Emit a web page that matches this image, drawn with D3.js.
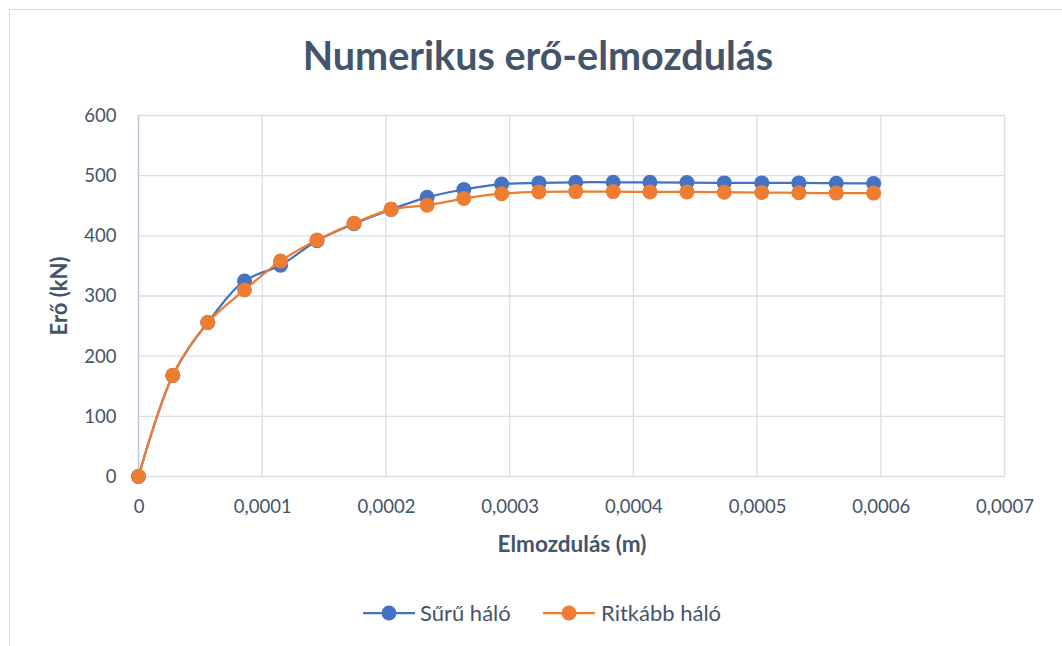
<!DOCTYPE html>
<html><head><meta charset="utf-8">
<script src="https://cdn.jsdelivr.net/npm/d3@7/dist/d3.min.js"></script>
<style>body{margin:0;background:#fff}svg{display:block}</style>
</head><body>
<script>
const displacement = [0, 0.0000277, 0.000056, 0.0000857, 0.0001148, 0.0001443, 0.0001742, 0.0002042, 0.0002333, 0.000263, 0.0002935, 0.0003237, 0.0003534, 0.0003837, 0.0004134, 0.0004433, 0.0004735, 0.0005038, 0.0005338, 0.000564, 0.0005942];
const denseMesh = [0, 168, 256, 325, 351, 392, 420, 444, 464, 477, 486, 488, 489, 489, 489, 488.5, 488, 488, 488, 487.5, 487];
const coarseMesh = [0, 168, 256, 310, 358, 393, 421, 444, 451, 462, 470, 473, 473.5, 473.5, 473, 473, 472.5, 472, 471.5, 471, 471];
const xTicks = [0, 0.0001, 0.0002, 0.0003, 0.0004, 0.0005, 0.0006, 0.0007];
const yTicks = [0, 100, 200, 300, 400, 500, 600];
const seriesNames = ["Sűrű háló", "Ritkább háló"];
const colors = ["#4472C4", "#ED7D31"];
const title = "Numerikus erő-elmozdulás";
const xTitle = "Elmozdulás (m)";
const yTitle = "Erő (kN)";

const W = 1062, H = 646;
const font = "Lato, 'Open Sans', sans-serif";
const textColor = "#44546A";
const svg = d3.select("body").append("svg").attr("width", W).attr("height", H);

svg.append("rect").attr("x", 9.5).attr("y", 9.5).attr("width", 1060).attr("height", 660)
  .attr("fill", "#fff").attr("stroke", "#D9D9D9");

const x = d3.scaleLinear().domain([0, 0.0007]).range([138.5, 1004.5]);
const y = d3.scaleLinear().domain([0, 600]).range([476.5, 115.5]);

const fmt = d => d === 0 ? "0" : d.toFixed(4).replace(".", ",");

// grid
const g = svg.append("g");
g.selectAll(".hg").data(yTicks).join("line")
  .attr("x1", x(0)).attr("x2", x(0.0007)).attr("y1", d => y(d)).attr("y2", d => y(d))
  .attr("stroke", "#D9DEE6").attr("stroke-width", 1.3);
g.selectAll(".vg").data(xTicks.slice(1)).join("line")
  .attr("y1", y(0)).attr("y2", y(600)).attr("x1", d => x(d)).attr("x2", d => x(d))
  .attr("stroke", "#D9DEE6").attr("stroke-width", 1.3);
g.append("line").attr("x1", x(0)).attr("x2", x(0)).attr("y1", y(0)).attr("y2", y(600))
  .attr("stroke", "#BCC6D6").attr("stroke-width", 1.5);

// axes (text via d3 axis)
const xAxis = svg.append("g").attr("transform", `translate(0,${y(0)})`)
  .call(d3.axisBottom(x).tickValues(xTicks).tickFormat(fmt).tickSize(0).tickPadding(22));
const yAxis = svg.append("g").attr("transform", `translate(${x(0)},0)`)
  .call(d3.axisLeft(y).tickValues(yTicks).tickSize(0).tickPadding(22));
[xAxis, yAxis].forEach(a => {
  a.select(".domain").remove();
  a.selectAll("text").attr("fill", textColor).style("font-family", font).style("font-size", "18.5px");
});
xAxis.selectAll("text").attr("dy", "0.35em").attr("y", 30);

// lines
const line = d3.line().curve(d3.curveCatmullRom.alpha(0.5)).x(d => x(d[0])).y(d => y(d[1]));
[denseMesh, coarseMesh].forEach((vals, i) => {
  const pts = displacement.map((d, j) => [d, vals[j]]);
  svg.append("path").datum(pts).attr("d", line).attr("fill", "none")
    .attr("stroke", colors[i]).attr("stroke-width", 2.25);
  svg.append("g").selectAll("circle").data(pts).join("circle")
    .attr("cx", d => x(d[0])).attr("cy", d => y(d[1])).attr("r", 7.5)
    .attr("fill", colors[i]);
});

// titles
svg.append("text").attr("x", 538).attr("y", 70).attr("text-anchor", "middle")
  .attr("fill", textColor).style("font-family", font).style("font-weight", "bold").style("font-size", "39.5px")
  .text(title);
svg.append("text").attr("x", 572).attr("y", 552).attr("text-anchor", "middle")
  .attr("fill", textColor).style("font-family", font).style("font-weight", "bold").style("font-size", "22.5px")
  .text(xTitle);
svg.append("text").attr("transform", "translate(67,296) rotate(-90)").attr("text-anchor", "middle")
  .attr("fill", textColor).style("font-family", font).style("font-weight", "bold").style("font-size", "22px")
  .text(yTitle);

// legend
const legend = [{x0: 363, x1: 415, tx: 420}, {x0: 543, x1: 595, tx: 601}];
legend.forEach((l, i) => {
  const lg = svg.append("g");
  lg.append("line").attr("x1", l.x0).attr("x2", l.x1).attr("y1", 613).attr("y2", 613)
    .attr("stroke", colors[i]).attr("stroke-width", 2.25);
  lg.append("circle").attr("cx", (l.x0 + l.x1) / 2).attr("cy", 613).attr("r", 7.5).attr("fill", colors[i]);
  lg.append("text").attr("x", l.tx).attr("y", 613).attr("dy", "0.35em")
    .attr("fill", textColor).style("font-family", font).style("font-size", "22px").text(seriesNames[i]);
});
</script>
</body></html>
